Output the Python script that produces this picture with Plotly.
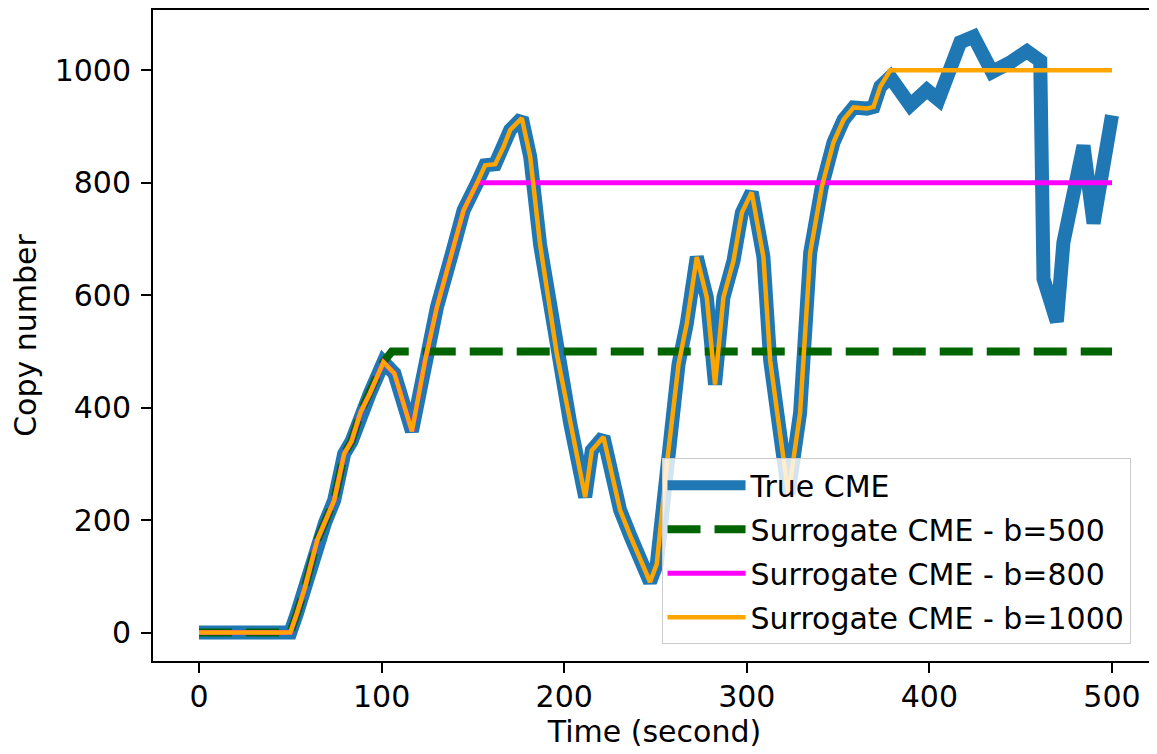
import plotly.graph_objects as go

# ---- data ----
time_true = [0, 50, 53.6, 58, 64.8, 69, 74, 79.5, 83.5, 88.5, 93.5, 101,
             107, 116.6, 123.9, 130.3, 138.5, 144.9, 152.2, 156.7, 162.2, 166.8,
             170.4, 176.8, 181.4, 186.8, 196, 203.3, 211.5, 215.1, 221.5, 230.6,
             236.5, 247, 250.7, 256.2, 262.6, 267.1, 272.6, 278.1, 282.6, 287.2,
             292.7, 297.3, 302.7, 309.1, 312.8, 318.3, 322.8, 329.2, 334.7, 341.1,
             347.5, 353, 358.5, 365.8, 369.4, 373.1, 378.6, 389.5, 398.6, 405,
             410.5, 416.9, 424.2, 434.3, 444.3, 453.4, 460.7, 462.5, 469.8, 473.4,
             484.4, 489.9, 500]
cme_true = [0, 0, 34, 80, 165, 195, 235, 318, 340, 392, 425, 481,
            461, 358, 485, 579, 674, 751, 799, 831, 833, 864,
            894, 915, 846, 690, 495, 372, 241, 324, 348, 218,
            170, 90, 122, 299, 477, 549, 668, 596, 441, 596,
            661, 747, 783, 668, 484, 352, 246, 391, 675, 793,
            872, 912, 934, 932, 935, 971, 988, 938, 965, 948,
            1004, 1050, 1060, 997, 1014, 1034, 1017, 629, 553, 694,
            866, 728, 920]

bounds = [500, 800, 1000]
switch_times = [105.6, 153, 378.6]   # time at which each surrogate hits its bound
t_end = 500

tick_x = [0, 100, 200, 300, 400, 500]
tick_y = [0, 200, 400, 600, 800, 1000]

names = ["True CME", "Surrogate CME - b=500", "Surrogate CME - b=800",
         "Surrogate CME - b=1000"]

FONT = "DejaVu Sans"
FS = 30


def surrogate(bound, t_switch):
    ts = [t for t in time_true if t < t_switch]
    vs = cme_true[:len(ts)]
    return ts + [t_switch, t_end], vs + [bound, bound]


fig = go.Figure()
fig.add_trace(go.Scatter(x=time_true, y=cme_true, mode="lines", name=names[0],
                         legendgroup="g0",
                         line=dict(color="#1f77b4", width=14)))
styles = [dict(color="#006400", width=8, dash="33px,14px"),
          dict(color="#ff00ff", width=5),
          dict(color="#ffa500", width=4.5)]
for i, (b, ts, st) in enumerate(zip(bounds, switch_times, styles)):
    xs, ys = surrogate(b, ts)
    fig.add_trace(go.Scatter(x=xs, y=ys, mode="lines", name=names[i + 1],
                             legendgroup="g%d" % (i + 1), line=st))

axis_common = dict(showgrid=False, zeroline=False, showline=True, linecolor="black",
                   linewidth=2, mirror=True, ticks="outside", ticklen=10,
                   tickwidth=2, tickcolor="black",
                   tickfont=dict(family=FONT, size=FS, color="black"))

# page body has an 8px margin: figure is sized/offset to compensate
fig.update_layout(
    width=1149, height=746,
    margin=dict(l=144.5, r=1, t=2, b=93.3),
    paper_bgcolor="white", plot_bgcolor="white",
    font=dict(family=FONT, size=FS, color="black"),
    xaxis=dict(range=[-25.2, 524.1], tickvals=tick_x, automargin=False,
               ticklabelstandoff=-2,
               title=dict(text="Time (second)", standoff=7,
                          font=dict(family=FONT, size=FS)),
               **axis_common),
    yaxis=dict(range=[-50.5, 1107.3], tickvals=tick_y, automargin=False,
               title=dict(text="Copy number", standoff=12,
                          font=dict(family=FONT, size=FS)),
               ticklabelstandoff=4,
               **axis_common),
    legend=dict(x=0.507, y=0.3115, xanchor="left", yanchor="top",
                bgcolor="rgba(255,255,255,0.8)", bordercolor="#cccccc",
                borderwidth=1, font=dict(family=FONT, size=FS, color="black"),
                tracegroupgap=2, itemwidth=78, traceorder="grouped"),
    showlegend=True,
)

fig.write_html("out.html")
